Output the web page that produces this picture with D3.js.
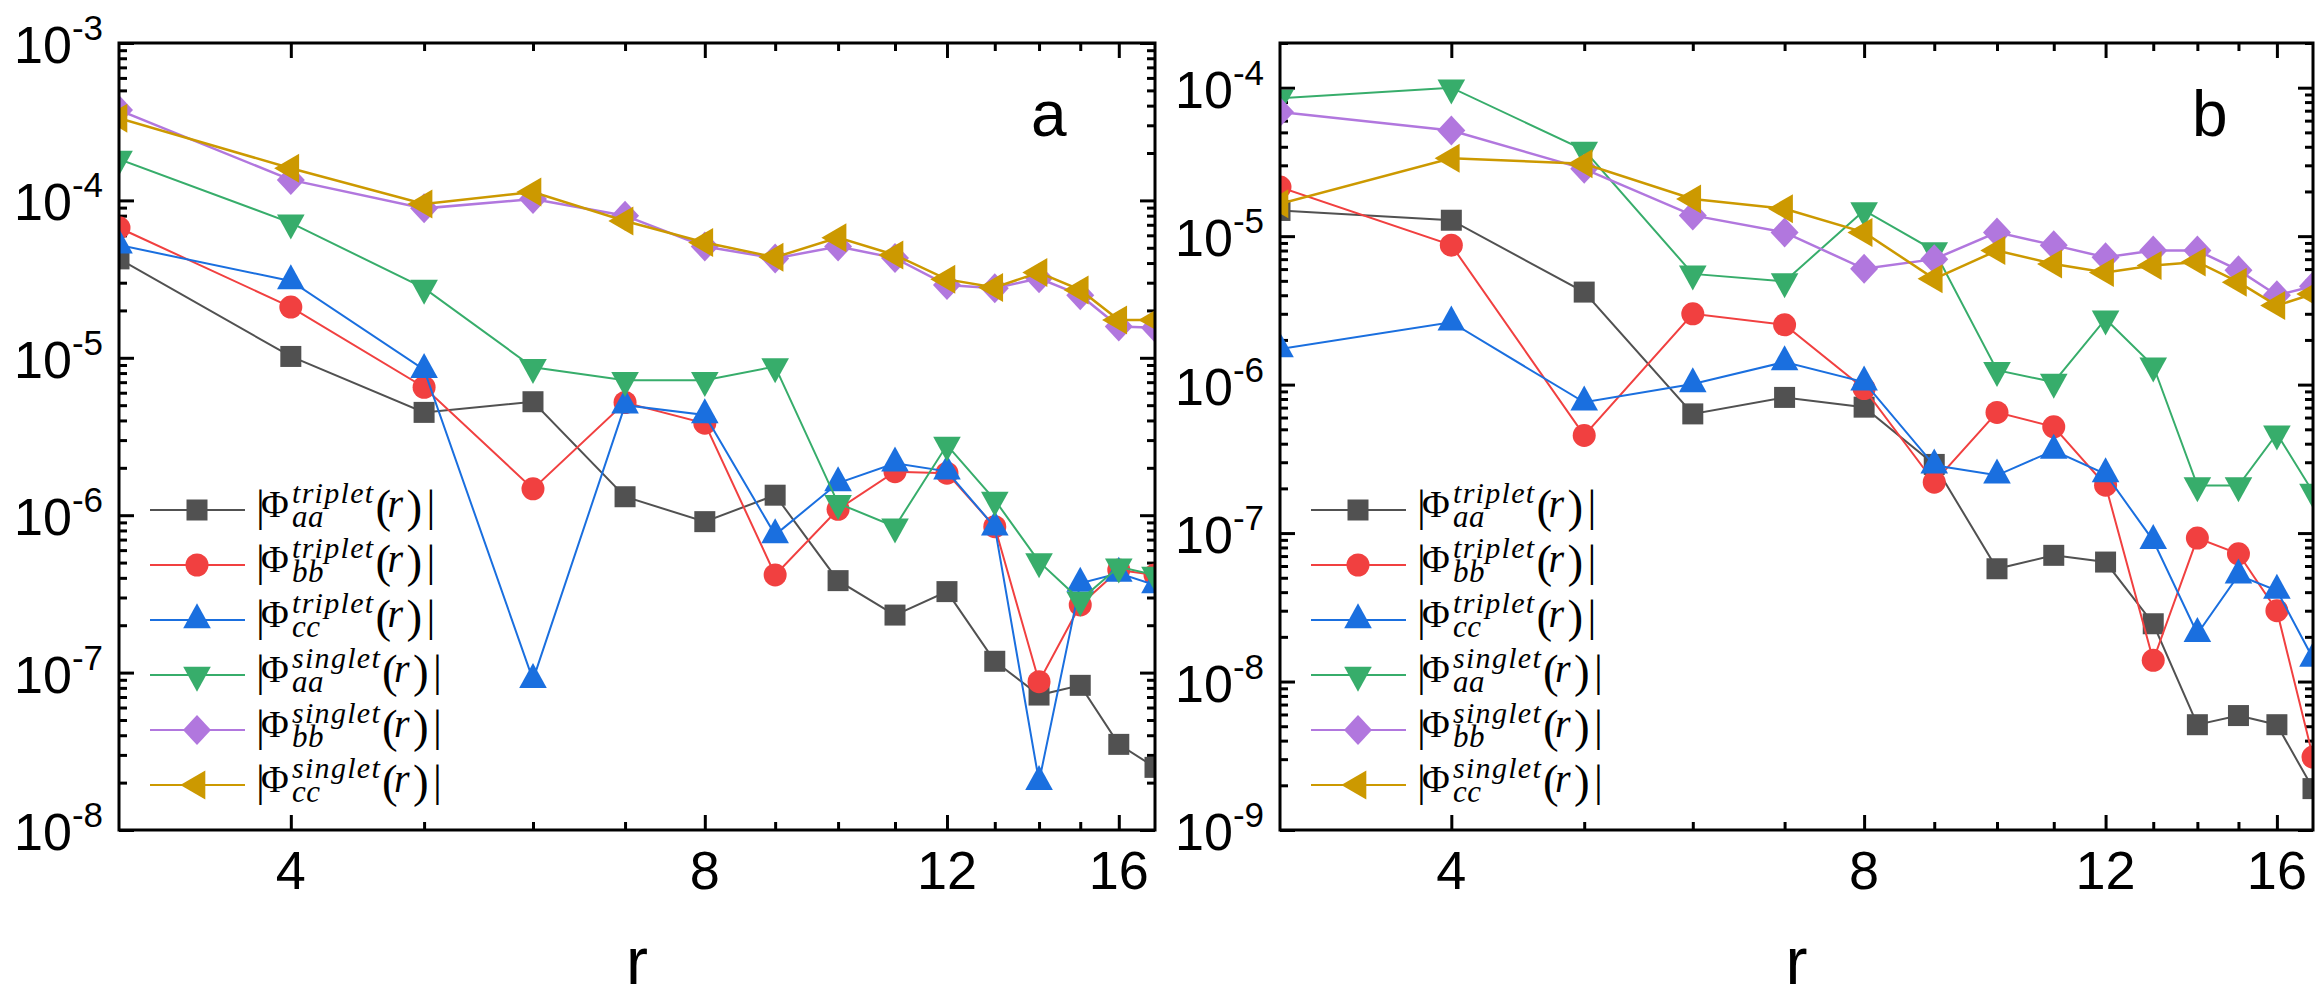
<!DOCTYPE html>
<html>
<head>
<meta charset="utf-8">
<script src="https://cdn.jsdelivr.net/npm/d3@7"></script>
<style>
  body { margin: 0; background: #fff; }
  svg { display: block; }
  .tick line { stroke: #000; stroke-width: 3; }
  text { fill: #000; }
</style>
</head>
<body>
<svg width="2316" height="1005"></svg>
<script>
// distances r (same for both panels)
var rValues = [3, 4, 5, 6, 7, 8, 9, 10, 11, 12, 13, 14, 15, 16, 17];
var xMajorTicks = [4, 8, 12, 16];
var xMinorTicks = [5, 6, 7, 9, 10, 11, 13, 14, 15];

// legend labels: subscript / superscript of |Phi(r)|
var seriesSub = ["aa", "bb", "cc", "aa", "bb", "cc"];
var seriesSup = ["triplet", "triplet", "triplet", "singlet", "singlet", "singlet"];
var seriesColors = ["#515151", "#F14040", "#1A6FDF", "#37AD6B", "#B177DE", "#CC9900"];
var seriesSymbols = ["square", "circle", "up", "down", "diamond", "left"];

// panel a
var aTripletAA = [4.25e-5, 1.02e-5, 4.5e-6, 5.26e-6, 1.31e-6, 9.1e-7, 1.34e-6, 3.84e-7, 2.32e-7, 3.27e-7, 1.18e-7, 7.2e-8, 8.3e-8, 3.5e-8, 2.5e-8];
var aTripletBB = [6.7e-5, 2.1e-5, 6.5e-6, 1.47e-6, 5.2e-6, 3.84e-6, 4.17e-7, 1.09e-6, 1.89e-6, 1.85e-6, 8.45e-7, 8.75e-8, 2.69e-7, 4.49e-7, 4.17e-7];
var aTripletCC = [5.2e-5, 3.08e-5, 8.4e-6, 9.0e-8, 5.0e-6, 4.33e-6, 7.5e-7, 1.6e-6, 2.14e-6, 1.9e-6, 8.4e-7, 2.03e-8, 3.69e-7, 4.27e-7, 3.6e-7];
var aSingletAA = [1.83e-4, 7.2e-5, 2.77e-5, 8.7e-6, 7.2e-6, 7.2e-6, 8.8e-6, 1.19e-6, 8.45e-7, 2.79e-6, 1.25e-6, 5.07e-7, 2.89e-7, 4.7e-7, 4.17e-7];
var aSingletBB = [3.75e-4, 1.35e-4, 8.9e-5, 1.02e-4, 8.0e-5, 5.1e-5, 4.28e-5, 5.1e-5, 4.3e-5, 2.9e-5, 2.77e-5, 3.2e-5, 2.5e-5, 1.58e-5, 1.55e-5];
var aSingletCC = [3.33e-4, 1.6e-4, 9.5e-5, 1.13e-4, 7.4e-5, 5.4e-5, 4.35e-5, 5.8e-5, 4.5e-5, 3.15e-5, 2.8e-5, 3.48e-5, 2.7e-5, 1.74e-5, 1.74e-5];

// panel b
var bTripletAA = [1.49e-5, 1.28e-5, 4.2e-6, 6.35e-7, 8.2e-7, 7.05e-7, 2.9e-7, 5.75e-8, 7.08e-8, 6.38e-8, 2.45e-8, 5.12e-9, 5.9e-9, 5.12e-9, 1.9e-9];
var bTripletBB = [2.14e-5, 8.7e-6, 4.55e-7, 3.0e-6, 2.53e-6, 9.4e-7, 2.2e-7, 6.5e-7, 5.2e-7, 2.1e-7, 1.39e-8, 9.25e-8, 7.25e-8, 3.0e-8, 3.1e-9];
var bTripletCC = [1.74e-6, 2.63e-6, 7.6e-7, 1.01e-6, 1.42e-6, 1.04e-6, 2.86e-7, 2.45e-7, 3.6e-7, 2.5e-7, 8.9e-8, 2.1e-8, 5.2e-8, 4.1e-8, 1.43e-8];
var bSingletAA = [8.5e-5, 1.0e-4, 3.8e-5, 5.57e-6, 4.95e-6, 1.49e-5, 8.0e-6, 1.25e-6, 1.04e-6, 2.77e-6, 1.34e-6, 2.09e-7, 2.09e-7, 4.67e-7, 1.89e-7];
var bSingletBB = [6.85e-5, 5.15e-5, 2.84e-5, 1.38e-5, 1.06e-5, 6.03e-6, 7.0e-6, 1.06e-5, 8.7e-6, 7.2e-6, 8.0e-6, 8.0e-6, 5.9e-6, 4.0e-6, 4.6e-6];
var bSingletCC = [1.65e-5, 3.35e-5, 3.07e-5, 1.78e-5, 1.53e-5, 1.06e-5, 5.16e-6, 8.0e-6, 6.5e-6, 5.7e-6, 6.35e-6, 6.7e-6, 4.9e-6, 3.41e-6, 4.08e-6];

var svg = d3.select("svg");
var sans = "'Liberation Sans', Arial, sans-serif";
var serif = "'Liberation Serif', 'Times New Roman', serif";

// symbol outlines, centred on the centroid like Origin does
function symbolPath(type) {
    switch (type) {
        case "square": return "M-10.5,-10.5H10.5V10.5H-10.5Z";
        case "circle": return "M11.5,0A11.5,11.5 0 1,1 -11.5,0A11.5,11.5 0 1,1 11.5,0Z";
        case "up": return "M0,-16.7L13.8,8.3L-13.8,8.3Z";
        case "down": return "M0,16.7L13.8,-8.3L-13.8,-8.3Z";
        case "diamond": return "M0,-15L14,0L0,15L-14,0Z";
        case "left": return "M-16.7,0L8.3,-14.5L8.3,14.5Z";
    }
}

function decadeMinors(lo, hi) {
    var out = [];
    for (var e = Math.floor(Math.log10(lo)); e <= Math.ceil(Math.log10(hi)); e++) {
        for (var k = 2; k <= 9; k++) {
            var v = k * Math.pow(10, e);
            if (v >= lo * 0.999 && v <= hi * 1.001) out.push(v);
        }
    }
    return out;
}

function drawPanel(cfg, data) {
    var x = d3.scaleLog().domain([3, 17]).range([cfg.left, cfg.right]);
    var y = d3.scaleLog().domain(cfg.yDomain).range([cfg.bottom, cfg.top]);
    var w = cfg.right - cfg.left, h = cfg.bottom - cfg.top;

    var g = svg.append("g").attr("id", cfg.id);

    g.append("clipPath").attr("id", cfg.id + "-clip")
        .append("rect")
        .attr("x", cfg.left).attr("y", cfg.top)
        .attr("width", w).attr("height", h);

    var decades = [];
    for (var e = Math.round(Math.log10(cfg.yDomain[0])); Math.pow(10, e) <= cfg.yDomain[1] * 1.001; e++) {
        decades.push(Math.pow(10, e));
    }
    var yMinor = decadeMinors(cfg.yDomain[0], cfg.yDomain[1]);

    // ticks point inwards on all four sides
    function addAxis(axis, tx, ty) {
        g.append("g")
            .attr("transform", "translate(" + tx + "," + ty + ")")
            .call(axis.tickFormat("").tickSizeOuter(0))
            .call(function(s) { s.select(".domain").remove(); });
    }
    addAxis(d3.axisBottom(x).tickValues(xMajorTicks).tickSizeInner(-15), 0, cfg.bottom);
    addAxis(d3.axisBottom(x).tickValues(xMinorTicks).tickSizeInner(-8), 0, cfg.bottom);
    addAxis(d3.axisTop(x).tickValues(xMajorTicks).tickSizeInner(-15), 0, cfg.top);
    addAxis(d3.axisTop(x).tickValues(xMinorTicks).tickSizeInner(-8), 0, cfg.top);
    addAxis(d3.axisLeft(y).tickValues(decades).tickSizeInner(-15), cfg.left, 0);
    addAxis(d3.axisLeft(y).tickValues(yMinor).tickSizeInner(-8), cfg.left, 0);
    addAxis(d3.axisRight(y).tickValues(decades).tickSizeInner(-15), cfg.right, 0);
    addAxis(d3.axisRight(y).tickValues(yMinor).tickSizeInner(-8), cfg.right, 0);

    // x tick labels
    g.selectAll(".xlab").data(xMajorTicks).enter()
        .append("text").attr("class", "xlab")
        .attr("x", function(d) { return x(d); })
        .attr("y", cfg.bottom + 59)
        .attr("text-anchor", "middle")
        .style("font-family", sans)
        .style("font-size", "54px")
        .text(function(d) { return d; });

    // y tick labels 10^n
    g.selectAll(".ylab").data(decades).enter()
        .append("text").attr("class", "ylab")
        .attr("x", cfg.left - 16)
        .attr("y", function(d) { return y(d) + 20; })
        .attr("text-anchor", "end")
        .style("font-family", sans)
        .style("font-size", "52px")
        .each(function(d) {
            var t = d3.select(this);
            t.append("tspan").text("10");
            t.append("tspan").attr("dy", -23).style("font-size", "35px")
                .text(String(Math.round(Math.log10(d))));
        });

    // axis title and panel letter
    g.append("text")
        .attr("x", (cfg.left + cfg.right) / 2).attr("y", 984)
        .attr("text-anchor", "middle")
        .style("font-family", sans)
        .style("font-size", "66px")
        .text("r");
    g.append("text")
        .attr("x", cfg.right - cfg.letterOffset).attr("y", 136)
        .style("font-family", sans)
        .style("font-size", "64px")
        .text(cfg.label);

    // series: line then symbols, in plot order
    var plot = g.append("g").attr("clip-path", "url(#" + cfg.id + "-clip)");
    var line = d3.line()
        .x(function(d) { return x(d[0]); })
        .y(function(d) { return y(d[1]); });

    data.forEach(function(values, i) {
        var pts = rValues.map(function(r, j) { return [r, values[j]]; });
        plot.append("path")
            .datum(pts)
            .attr("d", line)
            .attr("fill", "none")
            .attr("stroke", seriesColors[i])
            .attr("stroke-width", i >= 4 ? 2.5 : 2);
        plot.selectAll(".pt" + i).data(pts).enter()
            .append("path").attr("class", "pt" + i)
            .attr("transform", function(d) { return "translate(" + x(d[0]) + "," + y(d[1]) + ")"; })
            .attr("d", symbolPath(seriesSymbols[i]))
            .attr("fill", seriesColors[i]);
    });

    // frame
    g.append("rect")
        .attr("x", cfg.left).attr("y", cfg.top)
        .attr("width", w).attr("height", h)
        .attr("fill", "none").attr("stroke", "#000").attr("stroke-width", 3);

    // legend: one text element per row, |Phi_sub^sup(r)|
    seriesSub.forEach(function(sub, i) {
        var cy = 510 + i * 55;
        var lx = cfg.left + 31;
        var row = g.append("g").attr("class", "legend-row");
        row.append("line")
            .attr("x1", lx).attr("x2", lx + 95)
            .attr("y1", cy).attr("y2", cy)
            .attr("stroke", seriesColors[i]).attr("stroke-width", 2);
        row.append("path")
            .attr("transform", "translate(" + (lx + 47) + "," + cy + ")")
            .attr("d", symbolPath(seriesSymbols[i]))
            .attr("fill", seriesColors[i]);

        var t = row.append("text").style("font-family", serif);
        function span(txt, px, dy, size, italic, spacing) {
            var s = t.append("tspan")
                .attr("x", px).attr("y", cy + dy)
                .style("font-size", size + "px")
                .style("font-style", italic ? "italic" : "normal")
                .style("letter-spacing", (spacing || 0) + "px")
                .text(txt);
            return s.node().getComputedTextLength();
        }
        var bx = lx + 106;
        span("|", bx, 11, 44, false);
        span("\u03A6", bx + 5, 7, 38, false);
        var ws = span(seriesSup[i], bx + 36, -7, 30, true, 1.3);
        var wb = span(sub, bx + 36, 17, 31, true, 0.5);
        var px = bx + 36 + Math.max(ws, wb) + 1;
        span("(", px, 12, 47, false);
        span("r", px + 12, 7, 40, true);
        span(")", px + 31, 12, 47, false);
        span("|", px + 51, 11, 44, false);
    });
}

drawPanel({ id: "panelA", left: 119, right: 1155, top: 43, bottom: 830,
            yDomain: [1e-8, 1e-3], label: "a", letterOffset: 124 },
          [aTripletAA, aTripletBB, aTripletCC, aSingletAA, aSingletBB, aSingletCC]);

drawPanel({ id: "panelB", left: 1280, right: 2313, top: 43, bottom: 830,
            yDomain: [1e-9, 2e-4], label: "b", letterOffset: 121 },
          [bTripletAA, bTripletBB, bTripletCC, bSingletAA, bSingletBB, bSingletCC]);
</script>
</body>
</html>
